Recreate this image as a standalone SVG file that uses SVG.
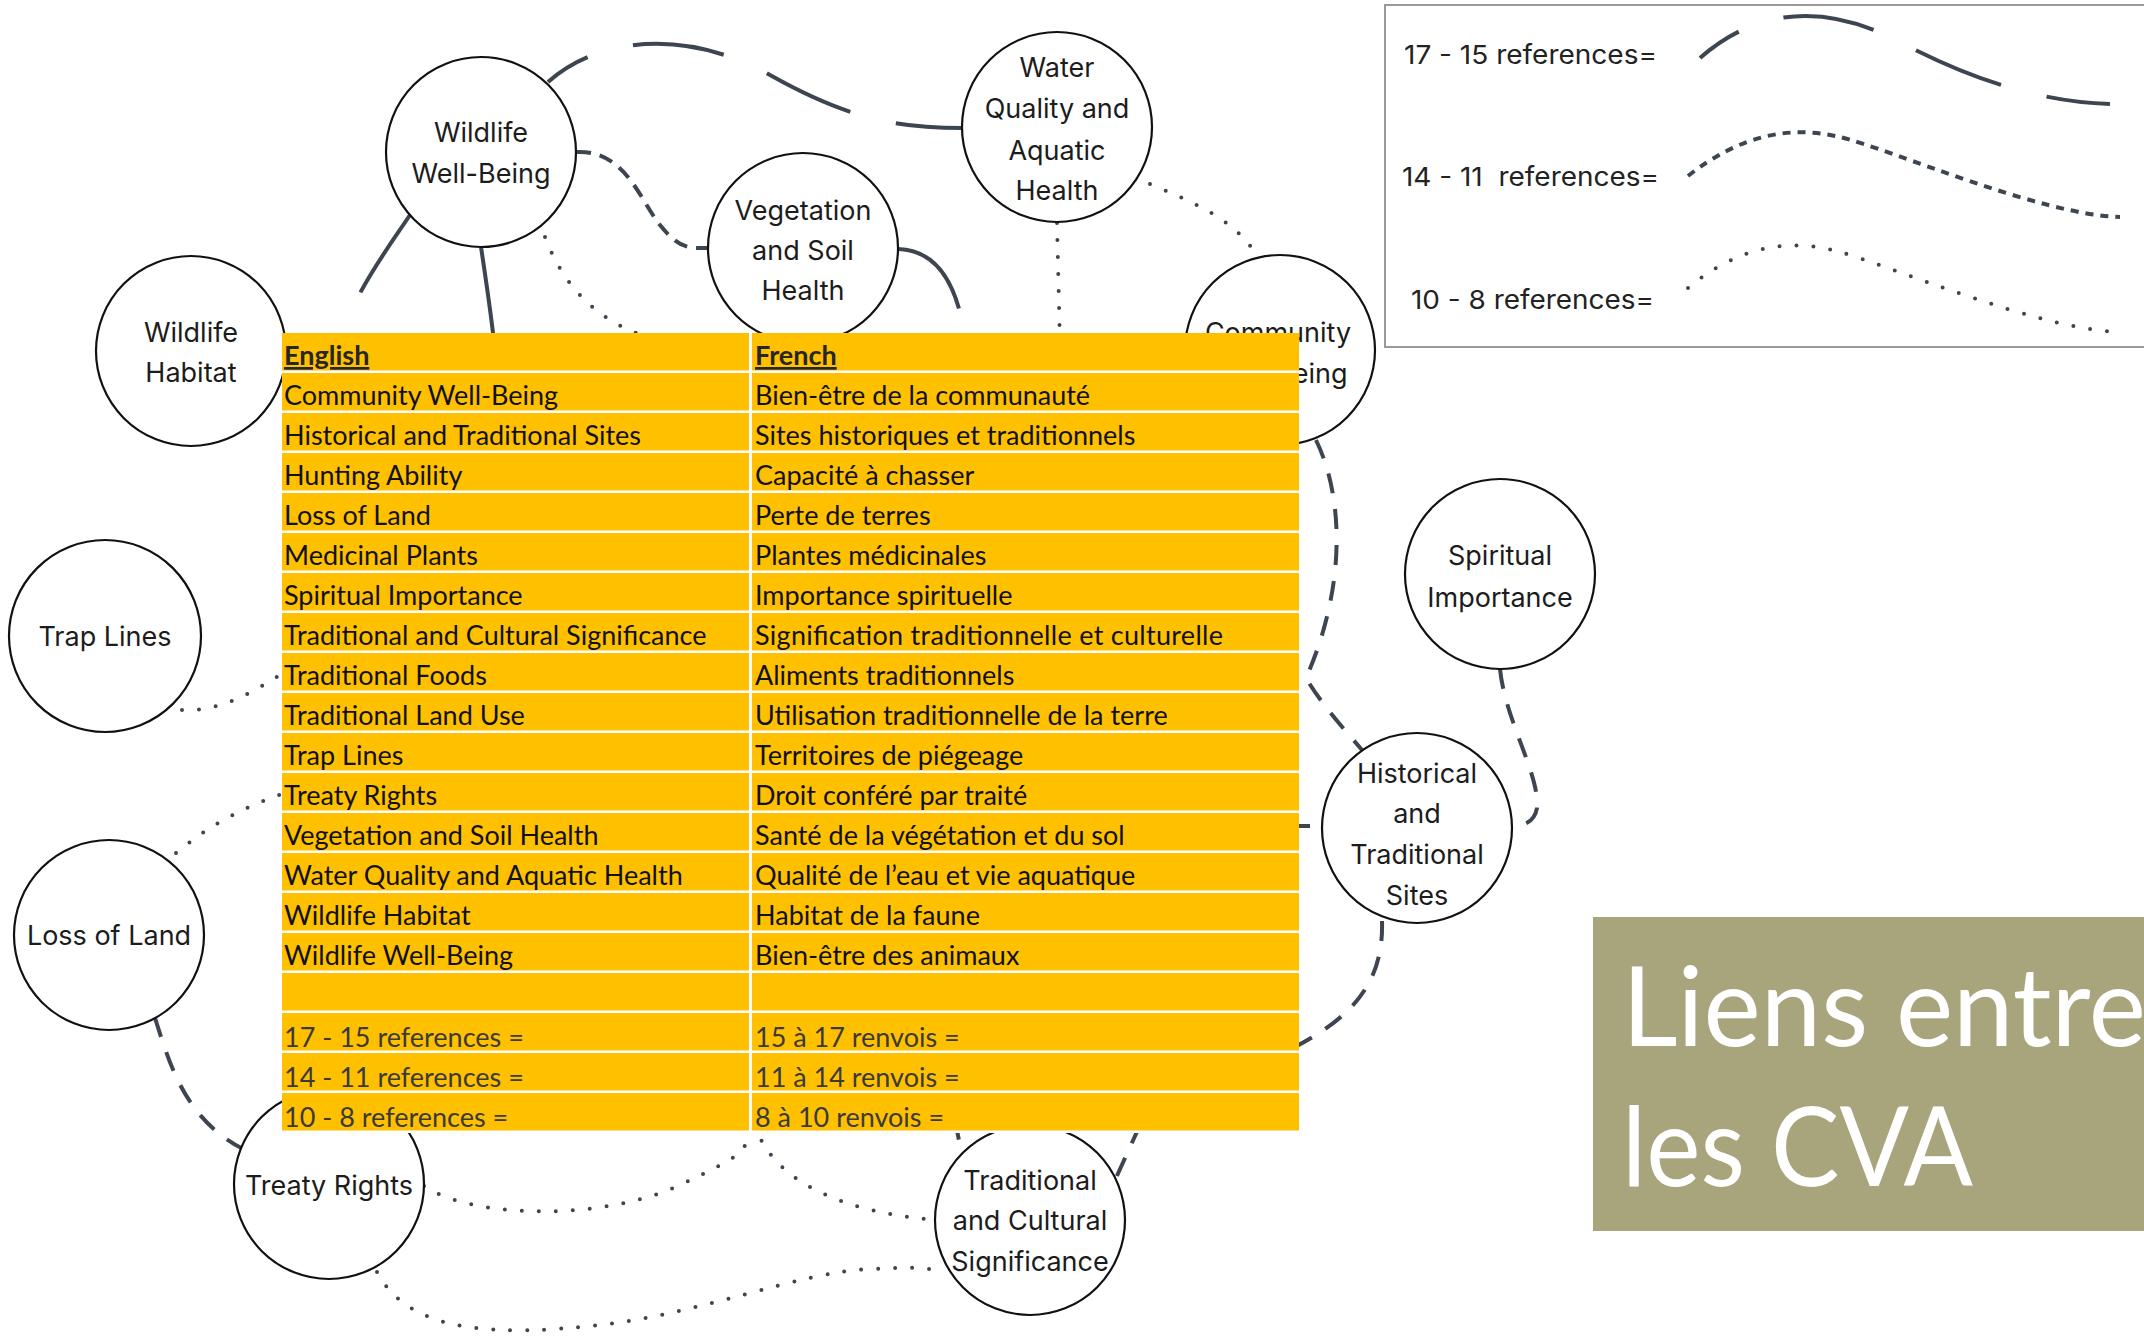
<svg xmlns="http://www.w3.org/2000/svg" width="2144" height="1336" viewBox="0 0 2144 1336">
<style>
.node circle{fill:#fff;stroke:#111;stroke-width:2.2}
.nt{font-family:Inter,"Liberation Sans",sans-serif;font-size:27px;fill:#1c1c1c;text-anchor:middle}
.c{fill:none;stroke:#3d4550;stroke-width:4}
.l{stroke-dasharray:92 47;stroke-linecap:butt}
.m{stroke-dasharray:20 16}
.s{stroke-dasharray:14 9}
.d{stroke-dasharray:0 17;stroke-linecap:round;stroke-width:4}
.cell{fill:#FFC000}
.tt{font-family:Lato,"Liberation Sans",sans-serif;font-size:27px;fill:#111}
.th{font-weight:bold;text-decoration:underline;fill:#262626}
.tl{fill:#3a3a3a}
.lt{font-family:Inter,"Liberation Sans",sans-serif;font-size:26px;fill:#222}
.ti{font-family:Lato,"Liberation Sans",sans-serif;font-size:110px;fill:#fff}
</style>

<g id="connectors">
<path class="c l" d="M 548 82 C 600 35, 690 30, 770 75 S 900 128, 962 128" stroke-dashoffset="45"/>
<path class="c l" d="M 410 215 C 390 245, 355 290, 330 360"/>
<path class="c l" d="M 481 247 C 486 280, 492 320, 496 360"/>
<path class="c l" d="M 898 249 C 935 250, 958 280, 966 345"/>
<path class="c s" d="M 577 152 C 625 150, 640 200, 660 225 S 690 248, 708 248"/>
<path class="c m" d="M 1316 440 C 1345 500, 1345 590, 1306 678 C 1322 705, 1345 730, 1362 750"/>
<path class="c m" d="M 1290 826 L 1322 826"/>
<path class="c m" d="M 1500 669 C 1505 720, 1540 775, 1537 808 Q 1534 826, 1512 826"/>
<path class="c m" d="M 1382 921 C 1384 985, 1350 1020, 1285 1052"/>
<path class="c m" d="M 1140 1125 L 1116 1178"/>
<path class="c m" d="M 955 1120 L 962 1156"/>
<path class="c m" d="M 155 1018 C 170 1065, 185 1120, 245 1150"/>
<path class="c d" d="M 545 237 C 565 290, 600 322, 650 338"/>
<path class="c d" d="M 1057 223 L 1060 345"/>
<path class="c d" d="M 1150 184 C 1200 205, 1238 222, 1258 258"/>
<path class="c d" d="M 182 710 C 220 712, 255 692, 295 665"/>
<path class="c d" d="M 176 853 C 210 825, 245 805, 295 790"/>
<path class="c d" d="M 424 1186 C 470 1218, 600 1222, 680 1185 S 740 1150, 752 1125"/>
<path class="c d" d="M 755 1125 C 772 1180, 840 1212, 936 1220"/>
<path class="c d" d="M 377 1272 C 410 1335, 500 1336, 600 1325 S 800 1272, 870 1269 S 925 1268, 942 1276"/>
</g>

<g id="node-wildlife-wellbeing" class="node"><circle cx="481" cy="152" r="95"/><text class="nt" x="481" y="142">Wildlife</text><text class="nt" x="481" y="183">Well-Being</text></g>
<g id="node-vegetation" class="node"><circle cx="803" cy="248" r="95"/><text class="nt" x="803" y="220">Vegetation</text><text class="nt" x="803" y="260">and Soil</text><text class="nt" x="803" y="300">Health</text></g>
<g id="node-water" class="node"><circle cx="1057" cy="127" r="95"/><text class="nt" x="1057" y="77">Water</text><text class="nt" x="1057" y="118">Quality and</text><text class="nt" x="1057" y="160">Aquatic</text><text class="nt" x="1057" y="200">Health</text></g>
<g id="node-community" class="node"><circle cx="1280" cy="350" r="95"/><text class="nt" x="1278" y="342">Community</text><text class="nt" x="1278" y="383">Well-Being</text></g>
<g id="node-wildlife-habitat" class="node"><circle cx="191" cy="351" r="95"/><text class="nt" x="191" y="342">Wildlife</text><text class="nt" x="191" y="382">Habitat</text></g>
<g id="node-trap-lines" class="node"><circle cx="105" cy="636" r="96"/><text class="nt" x="105" y="646">Trap Lines</text></g>
<g id="node-loss-of-land" class="node"><circle cx="109" cy="935" r="95"/><text class="nt" x="109" y="945">Loss of Land</text></g>
<g id="node-treaty-rights" class="node"><circle cx="329" cy="1184" r="95"/><text class="nt" x="329" y="1195">Treaty Rights</text></g>
<g id="node-traditional-cultural" class="node"><circle cx="1030" cy="1220" r="95"/><text class="nt" x="1030" y="1190">Traditional</text><text class="nt" x="1030" y="1230">and Cultural</text><text class="nt" x="1030" y="1271">Significance</text></g>
<g id="node-historical" class="node"><circle cx="1417" cy="828" r="95"/><text class="nt" x="1417" y="783">Historical</text><text class="nt" x="1417" y="823">and</text><text class="nt" x="1417" y="864">Traditional</text><text class="nt" x="1417" y="905">Sites</text></g>
<g id="node-spiritual" class="node"><circle cx="1500" cy="574" r="95"/><text class="nt" x="1500" y="565">Spiritual</text><text class="nt" x="1500" y="607">Importance</text></g>

<g id="table">
<rect x="282" y="333" width="1017" height="800" fill="#fff"/>
<g id="cells">
<rect class="cell" x="282" y="333" width="467" height="37.5"/><rect class="cell" x="752" y="333" width="547" height="37.5"/>
<rect class="cell" x="282" y="373" width="467" height="37.5"/><rect class="cell" x="752" y="373" width="547" height="37.5"/>
<rect class="cell" x="282" y="413" width="467" height="37.5"/><rect class="cell" x="752" y="413" width="547" height="37.5"/>
<rect class="cell" x="282" y="453" width="467" height="37.5"/><rect class="cell" x="752" y="453" width="547" height="37.5"/>
<rect class="cell" x="282" y="493" width="467" height="37.5"/><rect class="cell" x="752" y="493" width="547" height="37.5"/>
<rect class="cell" x="282" y="533" width="467" height="37.5"/><rect class="cell" x="752" y="533" width="547" height="37.5"/>
<rect class="cell" x="282" y="573" width="467" height="37.5"/><rect class="cell" x="752" y="573" width="547" height="37.5"/>
<rect class="cell" x="282" y="613" width="467" height="37.5"/><rect class="cell" x="752" y="613" width="547" height="37.5"/>
<rect class="cell" x="282" y="653" width="467" height="37.5"/><rect class="cell" x="752" y="653" width="547" height="37.5"/>
<rect class="cell" x="282" y="693" width="467" height="37.5"/><rect class="cell" x="752" y="693" width="547" height="37.5"/>
<rect class="cell" x="282" y="733" width="467" height="37.5"/><rect class="cell" x="752" y="733" width="547" height="37.5"/>
<rect class="cell" x="282" y="773" width="467" height="37.5"/><rect class="cell" x="752" y="773" width="547" height="37.5"/>
<rect class="cell" x="282" y="813" width="467" height="37.5"/><rect class="cell" x="752" y="813" width="547" height="37.5"/>
<rect class="cell" x="282" y="853" width="467" height="37.5"/><rect class="cell" x="752" y="853" width="547" height="37.5"/>
<rect class="cell" x="282" y="893" width="467" height="37.5"/><rect class="cell" x="752" y="893" width="547" height="37.5"/>
<rect class="cell" x="282" y="933" width="467" height="37.5"/><rect class="cell" x="752" y="933" width="547" height="37.5"/>
<rect class="cell" x="282" y="973" width="467" height="37.5"/><rect class="cell" x="752" y="973" width="547" height="37.5"/>
<rect class="cell" x="282" y="1013" width="467" height="37.5"/><rect class="cell" x="752" y="1013" width="547" height="37.5"/>
<rect class="cell" x="282" y="1053" width="467" height="37.5"/><rect class="cell" x="752" y="1053" width="547" height="37.5"/>
<rect class="cell" x="282" y="1093" width="467" height="37.5"/><rect class="cell" x="752" y="1093" width="547" height="37.5"/>
</g>
<g id="table-text">
<text class="tt th" x="284" y="365">English</text><text class="tt th" x="755" y="365">French</text>
<text class="tt" x="284" y="405">Community Well-Being</text><text class="tt" x="755" y="405">Bien-être de la communauté</text>
<text class="tt" x="284" y="445">Historical and Traditional Sites</text><text class="tt" x="755" y="445">Sites historiques et traditionnels</text>
<text class="tt" x="284" y="485">Hunting Ability</text><text class="tt" x="755" y="485">Capacité à chasser</text>
<text class="tt" x="284" y="525">Loss of Land</text><text class="tt" x="755" y="525">Perte de terres</text>
<text class="tt" x="284" y="565">Medicinal Plants</text><text class="tt" x="755" y="565">Plantes médicinales</text>
<text class="tt" x="284" y="605">Spiritual Importance</text><text class="tt" x="755" y="605">Importance spirituelle</text>
<text class="tt" x="284" y="645">Traditional and Cultural Significance</text><text class="tt" x="755" y="645" textLength="468" lengthAdjust="spacing">Signification traditionnelle et culturelle</text>
<text class="tt" x="284" y="685">Traditional Foods</text><text class="tt" x="755" y="685">Aliments traditionnels</text>
<text class="tt" x="284" y="725">Traditional Land Use</text><text class="tt" x="755" y="725">Utilisation traditionnelle de la terre</text>
<text class="tt" x="284" y="765">Trap Lines</text><text class="tt" x="755" y="765">Territoires de piégeage</text>
<text class="tt" x="284" y="805">Treaty Rights</text><text class="tt" x="755" y="805">Droit conféré par traité</text>
<text class="tt" x="284" y="845">Vegetation and Soil Health</text><text class="tt" x="755" y="845">Santé de la végétation et du sol</text>
<text class="tt" x="284" y="885">Water Quality and Aquatic Health</text><text class="tt" x="755" y="885">Qualité de l’eau et vie aquatique</text>
<text class="tt" x="284" y="925">Wildlife Habitat</text><text class="tt" x="755" y="925">Habitat de la faune</text>
<text class="tt" x="284" y="965">Wildlife Well-Being</text><text class="tt" x="755" y="965">Bien-être des animaux</text>
<text class="tt tl" x="284" y="1047">17 - 15 references =</text><text class="tt tl" x="755" y="1047">15 à 17 renvois =</text>
<text class="tt tl" x="284" y="1087">14 - 11 references =</text><text class="tt tl" x="755" y="1087">11 à 14 renvois =</text>
<text class="tt tl" x="284" y="1127">10 - 8 references =</text><text class="tt tl" x="755" y="1127">8 à 10 renvois =</text>
</g>
</g>

<g id="legend">
<rect x="1385" y="5" width="800" height="342" fill="#fff" stroke="#9a9a9a" stroke-width="2"/>
<text class="lt" x="1404" y="64" textLength="253" lengthAdjust="spacingAndGlyphs">17 - 15 references=</text>
<text class="lt" x="1402" y="186" xml:space="preserve" textLength="257" lengthAdjust="spacingAndGlyphs">14 - 11  references=</text>
<text class="lt" x="1411" y="309" textLength="243" lengthAdjust="spacingAndGlyphs">10 - 8 references=</text>
<path class="c l" d="M 1700 58 C 1760 5, 1830 5, 1900 42 S 2040 102, 2110 104" stroke-dashoffset="45"/>
<path class="c" stroke-dasharray="8 7" stroke-width="4.5" d="M 1688 176 C 1740 135, 1790 125, 1840 137 S 2040 215, 2120 217"/>
<path class="c d" stroke-dasharray="0 14" stroke-width="3.5" d="M 1688 288 C 1740 245, 1790 238, 1840 252 S 2040 330, 2120 332"/>
</g>

<g id="title">
<rect x="1593" y="917" width="560" height="314" fill="#A8A57D"/>
<text class="ti" x="1622" y="1046" textLength="524" lengthAdjust="spacingAndGlyphs">Liens entre</text>
<text class="ti" x="1622" y="1186" textLength="351" lengthAdjust="spacingAndGlyphs">les CVA</text>
</g>
</svg>
